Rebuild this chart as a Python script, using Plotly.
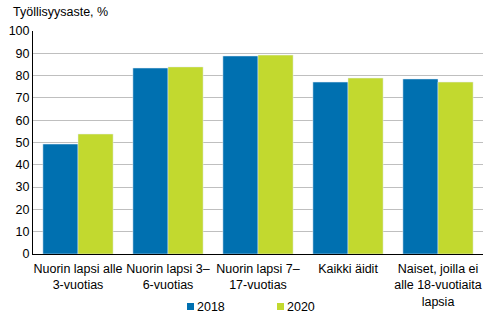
import plotly.graph_objects as go

categories = [
    "Nuorin lapsi alle<br>3-vuotias",
    "Nuorin lapsi 3–<br>6-vuotias",
    "Nuorin lapsi 7–<br>17-vuotias",
    "Kaikki äidit",
    "Naiset, joilla ei<br>alle 18-vuotiaita<br>lapsia",
]
series_names = ["2018", "2020"]
values_2018 = [49.3, 83.4, 88.8, 77.1, 78.5]
values_2020 = [53.8, 83.9, 89.2, 78.9, 77.1]
y_ticks = list(range(0, 101, 10))
colors = ["#0070b0", "#c2d92f"]

fig = go.Figure()
for name, vals, col in zip(series_names, [values_2018, values_2020], colors):
    fig.add_trace(go.Bar(name=name, x=categories, y=vals, marker_color=col,
                         showlegend=False))

# Compact legend drawn below the plot: small colour keys with labels
L, R, T, B = 33, 9, 31, 69
W, H = 492, 323
pw, ph = W - L - R, H - T - B


def px_x(x):
    return (x - L) / pw


def px_y(y):
    return (H - B - y) / ph


shapes, annotations = [], []
for name, col, key_x in zip(series_names, colors, [187, 277]):
    shapes.append(dict(type="rect", xref="paper", yref="paper",
                       x0=px_x(key_x), x1=px_x(key_x + 7),
                       y0=px_y(303), y1=px_y(310),
                       fillcolor=col, line=dict(width=0)))
    annotations.append(dict(text=name, xref="paper", yref="paper",
                            x=px_x(key_x + 8), y=px_y(306.5),
                            xanchor="left", yanchor="middle", showarrow=False,
                            font=dict(size=12.5)))

annotations.append(dict(text="Työllisyysaste, %", xref="paper", yref="paper",
                        x=px_x(11), y=px_y(12), xanchor="left", yanchor="middle",
                        showarrow=False, font=dict(size=12.5)))

fig.update_layout(
    width=W, height=H,
    margin=dict(l=L, r=R, t=T, b=B),
    paper_bgcolor="white", plot_bgcolor="white",
    font=dict(family="Liberation Sans, Arial, sans-serif", size=12.5, color="#000000"),
    barmode="group", bargap=0.22, bargroupgap=0,
    shapes=shapes, annotations=annotations,
)
fig.update_yaxes(range=[0, 100], tickvals=y_ticks, showgrid=True, gridcolor="#bfbfbf",
                 gridwidth=1, showline=True, linecolor="#000000", linewidth=1,
                 ticks="", zeroline=False, automargin=False)
fig.update_xaxes(showline=True, linecolor="#000000", linewidth=1, ticks="",
                 tickangle=0, automargin=False, ticklabelstandoff=3)

fig.write_html("out.html")
